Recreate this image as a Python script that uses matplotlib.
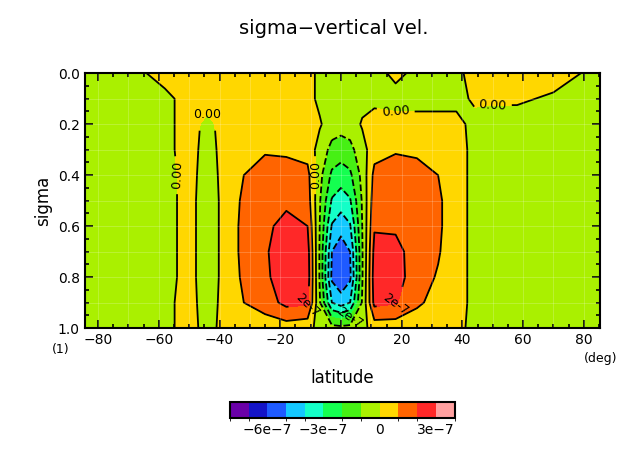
import numpy as np
import matplotlib
matplotlib.use("Agg")
import matplotlib.pyplot as plt
from matplotlib.colors import ListedColormap, BoundaryNorm

# latitude (deg) and sigma grid, values in units of 1e-7
lats = [-85, -70, -58, -50, -44, -38, -32, -25, -18, -11, -7, -3, 0,
        3, 7, 11, 18, 25, 32, 38, 44, 50, 58, 70, 85]
sigmas = [0.0, 0.1, 0.2, 0.3, 0.4, 0.5, 0.6, 0.7, 0.8, 0.9, 1.0]
w = [
    [-0.3, -0.3, 0.3, 0.3, 0.3, 0.3, 0.3, 0.3, 0.3, 0.3, -0.2, -0.3, -0.3, -0.3, -0.3, -0.3, 0.2, -0.2, -0.3, -0.2, 0.3, 0.3, 0.3, 0.3, -0.2],
    [-0.3, -0.3, -0.2, 0.3, 0.3, 0.3, 0.3, 0.3, 0.3, 0.3, -0.2, -0.4, -0.4, -0.4, -0.3, -0.3, -0.3, -0.3, -0.3, -0.2, 0.1, 0.1, 0.1, -0.1, -0.2],
    [-0.3, -0.3, -0.2, 0.3, -0.2, 0.3, 0.3, 0.3, 0.3, 0.5, 0.1, -0.5, -0.6, -0.5, 0.1, 0.5, 0.3, 0.3, 0.3, 0.2, -0.2, -0.3, -0.3, -0.3, -0.3],
    [-0.3, -0.3, -0.2, 0.3, -0.3, 0.3, 0.6, 0.9, 0.8, 0.6, -0.4, -1.3, -1.5, -1.3, -0.4, 0.6, 0.9, 0.8, 0.5, 0.3, -0.2, -0.3, -0.3, -0.3, -0.3],
    [-0.3, -0.3, -0.3, 0.3, -0.4, 0.3, 1.0, 1.4, 1.5, 1.3, -0.7, -2.2, -2.5, -2.2, -0.7, 1.3, 1.5, 1.4, 1.0, 0.3, -0.2, -0.3, -0.3, -0.3, -0.3],
    [-0.3, -0.3, -0.3, 0.3, -0.5, 0.3, 1.2, 1.6, 1.8, 1.5, -0.9, -3.1, -3.5, -3.1, -0.9, 1.6, 1.8, 1.6, 1.2, 0.3, -0.2, -0.3, -0.3, -0.3, -0.3],
    [-0.3, -0.3, -0.3, 0.3, -0.5, 0.3, 1.3, 1.8, 2.3, 2.0, -1.0, -4.1, -4.6, -4.1, -1.0, 1.9, 1.9, 1.7, 1.2, 0.3, -0.2, -0.3, -0.3, -0.3, -0.3],
    [-0.3, -0.3, -0.3, 0.3, -0.5, 0.3, 1.3, 1.9, 2.5, 2.4, -1.1, -5.0, -5.6, -5.0, -1.1, 2.3, 2.2, 1.7, 1.1, 0.3, -0.2, -0.3, -0.3, -0.3, -0.3],
    [-0.3, -0.3, -0.3, 0.3, -0.5, 0.3, 1.2, 1.8, 2.6, 2.5, -1.1, -5.2, -5.8, -5.2, -1.1, 2.5, 2.4, 1.5, 0.9, 0.3, -0.2, -0.3, -0.3, -0.3, -0.3],
    [-0.3, -0.3, -0.2, 0.3, -0.4, 0.3, 1.0, 1.5, 2.3, 2.2, -0.9, -4.0, -4.5, -4.0, -0.9, 2.3, 2.1, 1.2, 0.6, 0.3, -0.2, -0.3, -0.3, -0.3, -0.3],
    [-0.2, -0.2, -0.2, 0.3, -0.3, 0.3, 0.3, 0.4, 0.5, 0.3, -0.3, -0.6, -0.7, -0.6, -0.3, 0.4, 0.4, 0.3, 0.3, 0.2, -0.2, -0.2, -0.2, -0.2, -0.2],
]
levels = [-8, -7, -6, -5, -4, -3, -2, -1, 0, 1, 2, 3, 4]
colors = ["#6a00a8", "#1414c8", "#1e5aff", "#14c8ff", "#14ffc8", "#14ff50",
          "#46f014", "#aaf000", "#ffd700", "#ff6400", "#ff2828", "#ffa0a0"]

X, Y = np.meshgrid(lats, sigmas)
Z = np.array(w) * 1e-7
lv = np.array(levels) * 1e-7
cmap = ListedColormap(colors)
norm = BoundaryNorm(lv, cmap.N)

fig = plt.figure(figsize=(6.42, 4.55), dpi=100)
ax = fig.add_axes([0.132, 0.279, 0.802, 0.560])
cf = ax.contourf(X, Y, Z, levels=lv, cmap=cmap, norm=norm)
cs = ax.contour(X, Y, Z, levels=lv[1:-1], colors="black", linewidths=1.3,
                linestyles=["dashed" if v < 0 else "solid" for v in lv[1:-1]])
ax.clabel(cs, levels=[0.0], fmt={0.0: "0.00"}, fontsize=9)
ax.clabel(cs, levels=[2e-7, -2e-7], fmt={2e-7: "2e-7", -2e-7: "2e-7"}, fontsize=9)

for x in range(-80, 90, 10):
    ax.axvline(x, color="white", lw=0.4, alpha=0.35)
for y in np.arange(0.1, 1.0, 0.1):
    ax.axhline(y, color="white", lw=0.4, alpha=0.35)

ax.set_xlim(-84.4, 85.2)
ax.set_ylim(1.0, 0.0)
ax.set_xticks(range(-80, 81, 20))
ax.set_xticks(range(-80, 86, 5), minor=True)
ax.set_yticks(np.arange(0, 1.01, 0.2))
ax.set_yticks(np.arange(0, 1.01, 0.05), minor=True)
ax.set_yticklabels(["%.1f" % v for v in np.arange(0, 1.01, 0.2)])
ax.tick_params(direction="in", which="both", top=True, right=True, width=1.2,
               labelsize=10)
ax.tick_params(which="major", length=6)
ax.tick_params(which="minor", length=3)
for s in ax.spines.values():
    s.set_linewidth(1.5)
ax.set_ylabel("sigma", fontsize=12)
ax.set_xlabel("latitude", fontsize=12, labelpad=16)
fig.text(0.52, 0.925, "sigma\u2212vertical vel.", ha="center", fontsize=14)
fig.text(0.095, 0.225, "(1)", ha="center", fontsize=9)
fig.text(0.935, 0.205, "(deg)", ha="center", fontsize=9)

cax = fig.add_axes([0.358, 0.081, 0.35, 0.035])
cb = fig.colorbar(cf, cax=cax, orientation="horizontal")
cb.set_ticks([-6e-7, -3e-7, 0, 3e-7])
cb.set_ticklabels(["\u22126e\u22127", "\u22123e\u22127", "0", "3e\u22127"])
cb.ax.tick_params(labelsize=10, length=0)
cb.outline.set_linewidth(1.5)

fig.savefig("out.png", dpi=100)
